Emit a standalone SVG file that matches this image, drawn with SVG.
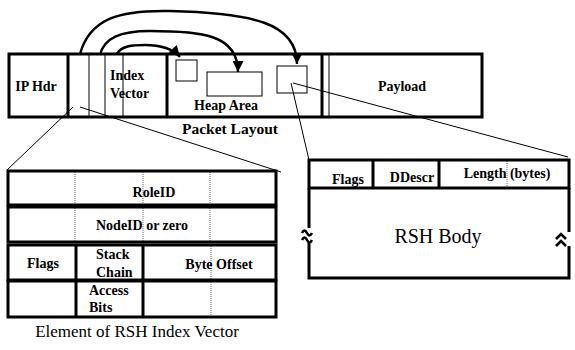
<svg xmlns="http://www.w3.org/2000/svg" width="575" height="350" viewBox="0 0 575 350">
<defs>
<style>
.b{font-family:"Liberation Serif","Times New Roman",serif;font-weight:bold;font-size:14px;fill:#000}
.c{text-anchor:middle}
.r{font-family:"Liberation Serif","Times New Roman",serif;fill:#000}
.thick{stroke:#000;stroke-width:3;fill:none}
.thin{stroke:#000;stroke-width:1;fill:none}
.dot{stroke:#000;stroke-width:1;stroke-dasharray:1,1;fill:none;opacity:0.6}
.arc{stroke:#000;stroke-width:2.4;fill:none}
.brk{stroke:#000;stroke-width:2.6;fill:none}
</style>
<marker id="ah" viewBox="0 0 10 10" refX="10" refY="5" markerUnits="userSpaceOnUse" markerWidth="12" markerHeight="11" orient="auto">
<path d="M0,0 L10,5 L0,10 z" fill="#000"/>
</marker>
</defs>
<rect width="575" height="350" fill="#fff"/>

<g id="packet">
<rect x="9" y="54" width="473" height="63" class="thick"/>
<line x1="68" y1="54" x2="68" y2="117" class="thick"/>
<line x1="167" y1="54" x2="167" y2="117" class="thick"/>
<line x1="322" y1="54" x2="322" y2="117" class="thick"/>
<line x1="89" y1="54" x2="89" y2="117" class="thin"/>
<line x1="105" y1="54" x2="105" y2="117" class="thin"/>
<line x1="123" y1="54" x2="123" y2="117" class="thin"/>
<line x1="329" y1="54" x2="329" y2="117" class="thin"/>
<text x="36" y="91" class="b c">IP Hdr</text>
<text x="110" y="80" class="b">Index</text>
<text x="110" y="98" class="b">Vector</text>
<text x="226" y="110" class="b c">Heap Area</text>
<text x="402" y="91" class="b c">Payload</text>
<text x="230" y="134" class="b c" style="font-size:15.5px">Packet Layout</text>
</g>

<g id="heap-box1"><rect x="176" y="60" width="21" height="21" class="thin"/></g>
<g id="heap-box2"><rect x="207" y="72" width="55" height="24" class="thin"/></g>
<g id="heap-box3"><rect x="277" y="66" width="30" height="27" class="thin"/></g>

<g id="index-element">
<rect x="8" y="171" width="268" height="34" class="thick"/>
<rect x="8" y="207" width="268" height="35" class="thick"/>
<rect x="8" y="245" width="268" height="35" class="thick"/>
<rect x="8" y="281" width="268" height="36" class="thick"/>
<line x1="76" y1="245" x2="76" y2="317" class="thick"/>
<line x1="143" y1="245" x2="143" y2="317" class="thick"/>
<line x1="75" y1="172" x2="75" y2="241" class="dot"/>
<line x1="143" y1="172" x2="143" y2="241" class="dot"/>
<line x1="210" y1="172" x2="210" y2="241" class="dot"/>
<line x1="211" y1="246" x2="211" y2="316" class="dot"/>
<text x="154" y="197" class="b c">RoleID</text>
<text x="142" y="230" class="b c">NodeID or zero</text>
<text x="43" y="268" class="b c">Flags</text>
<text x="96" y="259" class="b">Stack</text>
<text x="96" y="277" class="b">Chain</text>
<text x="219" y="269" class="b c">Byte Offset</text>
<text x="89" y="295" class="b">Access</text>
<text x="89" y="312" class="b">Bits</text>
<text x="137" y="337" class="r c" style="font-size:17px">Element of RSH Index Vector</text>
</g>

<g id="rsh">
<rect x="309" y="160" width="260" height="28" class="thick"/>
<line x1="373" y1="160" x2="373" y2="188" class="thick"/>
<line x1="439" y1="160" x2="439" y2="188" class="thick"/>
<line x1="507" y1="161" x2="507" y2="187" class="dot"/>
<path d="M309,188 V228 M309,243 V278 H569 V246 M569,232 V188" class="thick"/>
<path d="M302,233 q2.5,-5 5,0 t5,0 M302,240 q2.5,-5 5,0 t5,0" class="brk"/>
<path d="M556,239 l5,-5 l5,5 M556,246 l5,-5 l5,5" class="brk"/>
<text x="348" y="184" class="b c">Flags</text>
<text x="412" y="182" class="b c">DDescr</text>
<text x="507" y="178" class="b c">Length (bytes)</text>
<text x="438" y="243" class="r c" style="font-size:20px">RSH Body</text>
</g>

<g id="connectors">
<path d="M80,54 C90,18 120,10 170,11 C250,13 297,22 297,64" class="arc" marker-end="url(#ah)"/>
<path d="M100,55 C104,38 120,31 150,31 C200,31 238,34 238,72" class="arc" marker-end="url(#ah)"/>
<path d="M117,54 C121,46 132,45 145,45 C160,45 172,48 180,57" class="arc" marker-end="url(#ah)"/>
<line x1="73" y1="107" x2="7" y2="170" class="thin"/>
<line x1="80" y1="107" x2="281" y2="172" class="thin"/>
<line x1="291" y1="83" x2="309" y2="160" class="thin"/>
<line x1="293" y1="83" x2="568" y2="157" class="thin"/>
</g>
</svg>
